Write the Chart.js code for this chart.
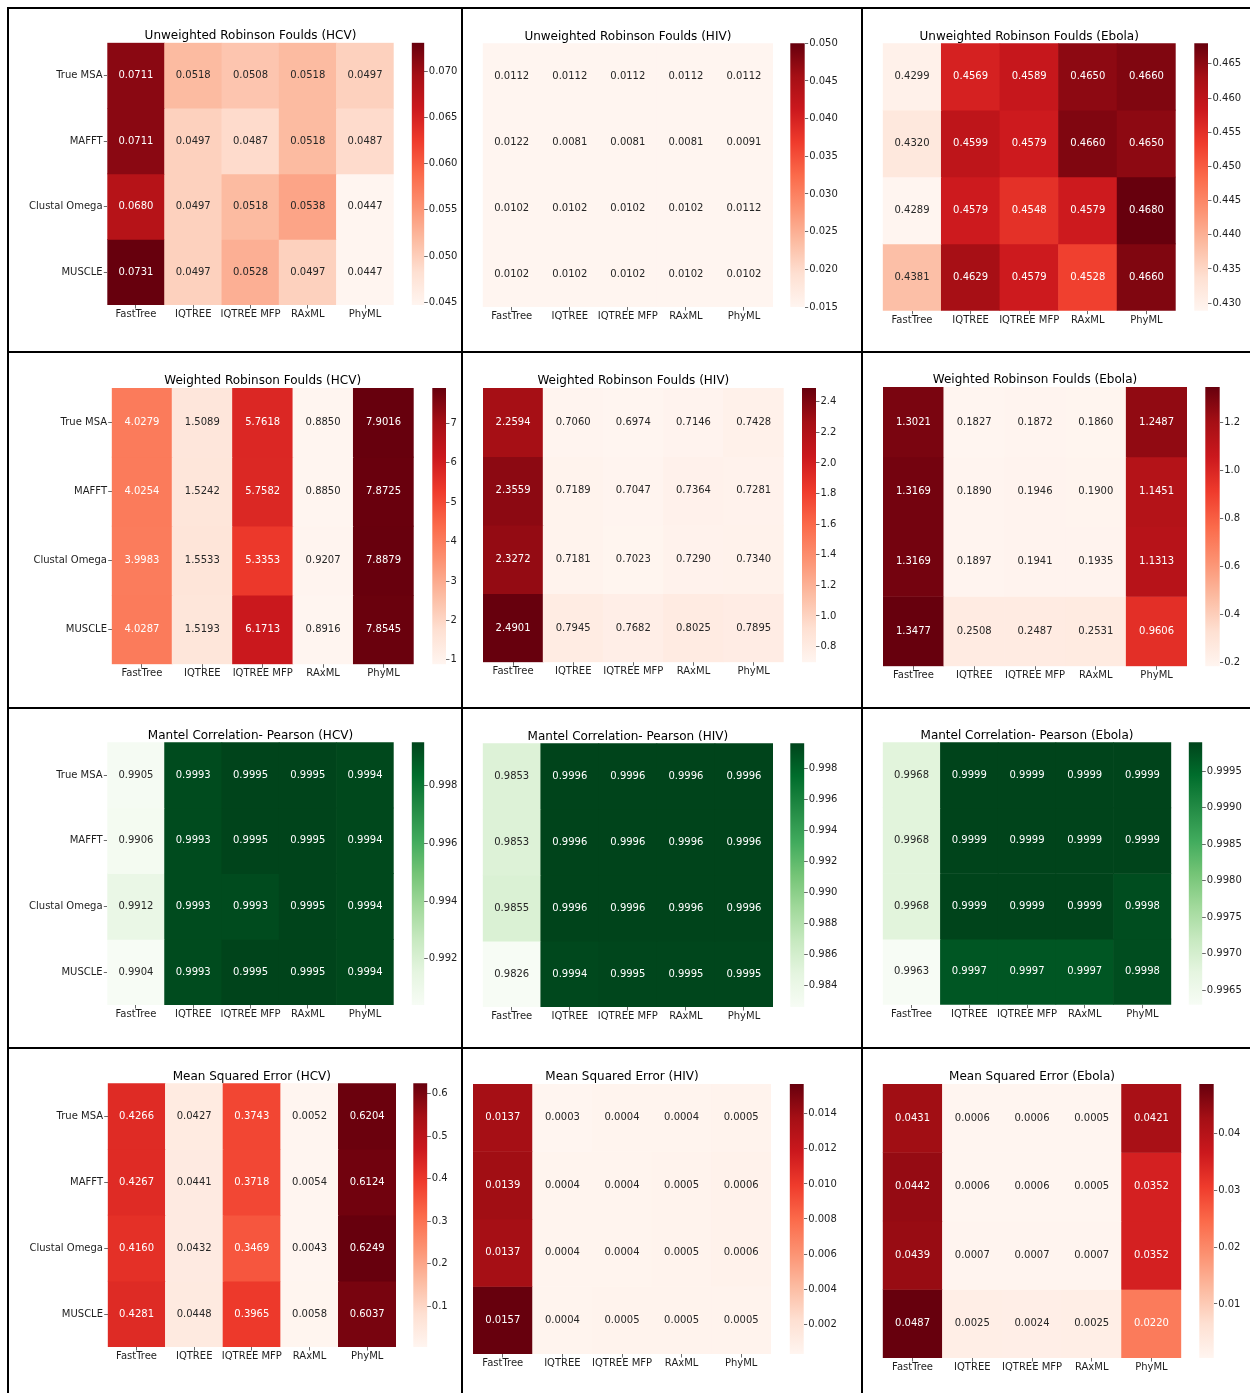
<!DOCTYPE html>
<html>
<head>
<meta charset="utf-8">
<title>Alignment / tree method comparison heatmaps</title>
<script src="https://cdn.jsdelivr.net/npm/chart.js@4.4.1/dist/chart.umd.min.js"></script>
<style>
  html, body { margin: 0; padding: 0; background: #fff; }
  body { position: relative; width: 1250px; height: 1393px; overflow: hidden; }
  canvas { position: absolute; }
  .rule { position: absolute; background: #000; }
</style>
</head>
<body>
<script>
// ---- categories ----
const aligners = ['True MSA', 'MAFFT', 'Clustal Omega', 'MUSCLE'];
const treeMethods = ['FastTree', 'IQTREE', 'IQTREE MFP', 'RAxML', 'PhyML'];

// ---- metric values (rows = aligners, columns = tree methods) ----
const urfHCV = [
  [0.0711, 0.0518, 0.0508, 0.0518, 0.0497],
  [0.0711, 0.0497, 0.0487, 0.0518, 0.0487],
  [0.0680, 0.0497, 0.0518, 0.0538, 0.0447],
  [0.0731, 0.0497, 0.0528, 0.0497, 0.0447]
];
const urfHIV = [
  [0.0112, 0.0112, 0.0112, 0.0112, 0.0112],
  [0.0122, 0.0081, 0.0081, 0.0081, 0.0091],
  [0.0102, 0.0102, 0.0102, 0.0102, 0.0112],
  [0.0102, 0.0102, 0.0102, 0.0102, 0.0102]
];
const urfEbola = [
  [0.4299, 0.4569, 0.4589, 0.4650, 0.4660],
  [0.4320, 0.4599, 0.4579, 0.4660, 0.4650],
  [0.4289, 0.4579, 0.4548, 0.4579, 0.4680],
  [0.4381, 0.4629, 0.4579, 0.4528, 0.4660]
];
const wrfHCV = [
  [4.0279, 1.5089, 5.7618, 0.8850, 7.9016],
  [4.0254, 1.5242, 5.7582, 0.8850, 7.8725],
  [3.9983, 1.5533, 5.3353, 0.9207, 7.8879],
  [4.0287, 1.5193, 6.1713, 0.8916, 7.8545]
];
const wrfHIV = [
  [2.2594, 0.7060, 0.6974, 0.7146, 0.7428],
  [2.3559, 0.7189, 0.7047, 0.7364, 0.7281],
  [2.3272, 0.7181, 0.7023, 0.7290, 0.7340],
  [2.4901, 0.7945, 0.7682, 0.8025, 0.7895]
];
const wrfEbola = [
  [1.3021, 0.1827, 0.1872, 0.1860, 1.2487],
  [1.3169, 0.1890, 0.1946, 0.1900, 1.1451],
  [1.3169, 0.1897, 0.1941, 0.1935, 1.1313],
  [1.3477, 0.2508, 0.2487, 0.2531, 0.9606]
];
const mantelHCV = [
  [0.9905, 0.9993, 0.9995, 0.9995, 0.9994],
  [0.9906, 0.9993, 0.9995, 0.9995, 0.9994],
  [0.9912, 0.9993, 0.9993, 0.9995, 0.9994],
  [0.9904, 0.9993, 0.9995, 0.9995, 0.9994]
];
const mantelHIV = [
  [0.9853, 0.9996, 0.9996, 0.9996, 0.9996],
  [0.9853, 0.9996, 0.9996, 0.9996, 0.9996],
  [0.9855, 0.9996, 0.9996, 0.9996, 0.9996],
  [0.9826, 0.9994, 0.9995, 0.9995, 0.9995]
];
const mantelEbola = [
  [0.9968, 0.9999, 0.9999, 0.9999, 0.9999],
  [0.9968, 0.9999, 0.9999, 0.9999, 0.9999],
  [0.9968, 0.9999, 0.9999, 0.9999, 0.9998],
  [0.9963, 0.9997, 0.9997, 0.9997, 0.9998]
];
const mseHCV = [
  [0.4266, 0.0427, 0.3743, 0.0052, 0.6204],
  [0.4267, 0.0441, 0.3718, 0.0054, 0.6124],
  [0.4160, 0.0432, 0.3469, 0.0043, 0.6249],
  [0.4281, 0.0448, 0.3965, 0.0058, 0.6037]
];
const mseHIV = [
  [0.0137, 0.0003, 0.0004, 0.0004, 0.0005],
  [0.0139, 0.0004, 0.0004, 0.0005, 0.0006],
  [0.0137, 0.0004, 0.0004, 0.0005, 0.0006],
  [0.0157, 0.0004, 0.0005, 0.0005, 0.0005]
];
const mseEbola = [
  [0.0431, 0.0006, 0.0006, 0.0005, 0.0421],
  [0.0442, 0.0006, 0.0006, 0.0005, 0.0352],
  [0.0439, 0.0007, 0.0007, 0.0007, 0.0352],
  [0.0487, 0.0025, 0.0024, 0.0025, 0.0220]
];

// ---- colorbar tick values ----
const cbTicksUrfHCV = [0.045, 0.050, 0.055, 0.060, 0.065, 0.070];
const cbTicksUrfHIV = [0.015, 0.020, 0.025, 0.030, 0.035, 0.040, 0.045, 0.050];
const cbTicksUrfEbola = [0.430, 0.435, 0.440, 0.445, 0.450, 0.455, 0.460, 0.465];
const cbTicksWrfHCV = [1, 2, 3, 4, 5, 6, 7];
const cbTicksWrfHIV = [0.8, 1.0, 1.2, 1.4, 1.6, 1.8, 2.0, 2.2, 2.4];
const cbTicksWrfEbola = [0.2, 0.4, 0.6, 0.8, 1.0, 1.2];
const cbTicksMantelHCV = [0.992, 0.994, 0.996, 0.998];
const cbTicksMantelHIV = [0.984, 0.986, 0.988, 0.990, 0.992, 0.994, 0.996, 0.998];
const cbTicksMantelEbola = [0.9965, 0.9970, 0.9975, 0.9980, 0.9985, 0.9990, 0.9995];
const cbTicksMseHCV = [0.1, 0.2, 0.3, 0.4, 0.5, 0.6];
const cbTicksMseHIV = [0.002, 0.004, 0.006, 0.008, 0.010, 0.012, 0.014];
const cbTicksMseEbola = [0.01, 0.02, 0.03, 0.04];

// fixed colour range for the HIV unweighted RF panel (others use data min/max)
const urfHIVRange = [0.015, 0.050];

// ---- colour maps (ColorBrewer sequential) ----
const PALETTES = {
  Reds:   ['#fff5f0', '#fee0d2', '#fcbba1', '#fc9272', '#fb6a4a', '#ef3b2c', '#cb181d', '#a50f15', '#67000d'],
  Greens: ['#f7fcf5', '#e5f5e0', '#c7e9c0', '#a1d99b', '#74c476', '#41ab5d', '#238b45', '#006d2c', '#00441b']
};
function hexToRgb(h) {
  return [parseInt(h.slice(1, 3), 16), parseInt(h.slice(3, 5), 16), parseInt(h.slice(5, 7), 16)];
}
function colorAt(name, t) {
  const stops = PALETTES[name];
  t = Math.max(0, Math.min(1, t));
  const s = t * (stops.length - 1);
  const i = Math.min(Math.floor(s), stops.length - 2);
  const f = s - i;
  const a = hexToRgb(stops[i]), b = hexToRgb(stops[i + 1]);
  return a.map((c, k) => Math.round(c + (b[k] - c) * f));
}
function rgbCss(rgb) { return 'rgb(' + rgb.join(',') + ')'; }
// annotation colour chosen from the cell's relative luminance
function textColorFor(rgb) {
  const lin = rgb.map(c => { c /= 255; return c <= 0.03928 ? c / 12.92 : Math.pow((c + 0.055) / 1.055, 2.4); });
  const lum = 0.2126 * lin[0] + 0.7152 * lin[1] + 0.0722 * lin[2];
  return lum > 0.408 ? '#262626' : '#ffffff';
}

// ---- panel grid ----
const colSpans = [[9, 461], [463, 861], [863, 1250]];
const rowSpans = [[9, 351], [353, 707], [709, 1047], [1049, 1393]];

const panels = [
  { title: 'Unweighted Robinson Foulds (HCV)', values: urfHCV, palette: 'Reds', ticks: cbTicksUrfHCV, decimals: 3, range: null, rowLabels: true, col: 0, row: 0, plot: [107.3, 42.7, 393.7, 305], bar: [411.7, 424.3] },
  { title: 'Unweighted Robinson Foulds (HIV)', values: urfHIV, palette: 'Reds', ticks: cbTicksUrfHIV, decimals: 3, range: urfHIVRange, rowLabels: false, col: 1, row: 0, plot: [482.7, 43.3, 773, 307], bar: [790.3, 804.7] },
  { title: 'Unweighted Robinson Foulds (Ebola)', values: urfEbola, palette: 'Reds', ticks: cbTicksUrfEbola, decimals: 3, range: null, rowLabels: false, col: 2, row: 0, plot: [882.7, 43.3, 1175.7, 310.7], bar: [1194.3, 1208] },
  { title: 'Weighted Robinson Foulds (HCV)', values: wrfHCV, palette: 'Reds', ticks: cbTicksWrfHCV, decimals: 0, range: null, rowLabels: true, col: 0, row: 1, plot: [111.7, 388, 413.7, 664.3], bar: [432.3, 446] },
  { title: 'Weighted Robinson Foulds (HIV)', values: wrfHIV, palette: 'Reds', ticks: cbTicksWrfHIV, decimals: 1, range: null, rowLabels: false, col: 1, row: 1, plot: [483, 388, 783.7, 662.3], bar: [802, 816] },
  { title: 'Weighted Robinson Foulds (Ebola)', values: wrfEbola, palette: 'Reds', ticks: cbTicksWrfEbola, decimals: 1, range: null, rowLabels: false, col: 2, row: 1, plot: [883, 387, 1187, 666.3], bar: [1205.3, 1219.7] },
  { title: 'Mantel Correlation- Pearson (HCV)', values: mantelHCV, palette: 'Greens', ticks: cbTicksMantelHCV, decimals: 3, range: null, rowLabels: true, col: 0, row: 2, plot: [107.3, 742.3, 393.7, 1005], bar: [411.7, 424.3] },
  { title: 'Mantel Correlation- Pearson (HIV)', values: mantelHIV, palette: 'Greens', ticks: cbTicksMantelHIV, decimals: 3, range: null, rowLabels: false, col: 1, row: 2, plot: [482.7, 743.3, 773, 1007], bar: [790.3, 804.3] },
  { title: 'Mantel Correlation- Pearson (Ebola)', values: mantelEbola, palette: 'Greens', ticks: cbTicksMantelEbola, decimals: 4, range: null, rowLabels: false, col: 2, row: 2, plot: [882.7, 742.3, 1171.3, 1004.7], bar: [1188.7, 1202.3] },
  { title: 'Mean Squared Error (HCV)', values: mseHCV, palette: 'Reds', ticks: cbTicksMseHCV, decimals: 1, range: null, rowLabels: true, col: 0, row: 3, plot: [107.7, 1083.3, 396, 1347], bar: [413.3, 427.3] },
  { title: 'Mean Squared Error (HIV)', values: mseHIV, palette: 'Reds', ticks: cbTicksMseHIV, decimals: 3, range: null, rowLabels: false, col: 1, row: 3, plot: [473, 1084, 771, 1354], bar: [789.7, 803.7] },
  { title: 'Mean Squared Error (Ebola)', values: mseEbola, palette: 'Reds', ticks: cbTicksMseEbola, decimals: 2, range: null, rowLabels: false, col: 2, row: 3, plot: [882.7, 1084, 1181.3, 1358], bar: [1199.3, 1213.7] }
];

Chart.defaults.font.family = '"DejaVu Sans", sans-serif';
Chart.defaults.font.size = 10;

const TICK_COLOR = '#444';
const LABEL_COLOR = '#1e1e1e';

// panel heading above the cells
const panelTitle = {
  id: 'panelTitle',
  afterDraw(chart, args, opts) {
    const { ctx, chartArea } = chart;
    ctx.save();
    ctx.font = '12px "DejaVu Sans", sans-serif';
    ctx.fillStyle = '#000';
    ctx.textAlign = 'center';
    ctx.textBaseline = 'alphabetic';
    ctx.fillText(opts.text, (chartArea.left + chartArea.right) / 2, chartArea.top - 3.7);
    ctx.restore();
  }
};

// value printed in the middle of each cell
const cellText = {
  id: 'cellText',
  afterDatasetsDraw(chart) {
    const ctx = chart.ctx;
    ctx.save();
    ctx.font = '10px "DejaVu Sans", sans-serif';
    ctx.textAlign = 'center';
    ctx.textBaseline = 'middle';
    chart.data.datasets.forEach((ds, r) => {
      chart.getDatasetMeta(r).data.forEach((bar, j) => {
        const p = bar.getProps(['x', 'y', 'base'], true);
        ctx.fillStyle = ds.textColors[j];
        ctx.fillText(ds.cellValues[j].toFixed(4), p.x, (p.y + p.base) / 2);
      });
    });
    ctx.restore();
  }
};

function valueRange(p) {
  if (p.range) return p.range;
  const all = p.values.flat();
  return [Math.min(...all), Math.max(...all)];
}

function addCanvas(left, top, w, h) {
  const c = document.createElement('canvas');
  c.width = w; c.height = h;
  c.style.left = left + 'px'; c.style.top = top + 'px';
  c.style.width = w + 'px'; c.style.height = h + 'px';
  document.body.appendChild(c);
  return c;
}

function drawHeatmap(p) {
  const [cl, cr] = colSpans[p.col];
  const [ct, cb] = rowSpans[p.row];
  const canvas = addCanvas(cl, ct, cr - cl, cb - ct);
  const [hl, ht, hr, hb] = p.plot;
  const yW = p.rowLabels ? 100 : 0;
  const xH = 28;
  const [vmin, vmax] = valueRange(p);

  const datasets = aligners.map((name, r) => {
    const rgbs = p.values[r].map(v => colorAt(p.palette, (v - vmin) / (vmax - vmin)));
    return {
      label: name,
      data: treeMethods.map(() => [r, r + 1]),
      cellValues: p.values[r],
      backgroundColor: rgbs.map(rgbCss),
      textColors: rgbs.map(textColorFor),
      borderWidth: 0,
      grouped: false,
      barPercentage: 1,
      categoryPercentage: 1
    };
  });

  new Chart(canvas, {
    type: 'bar',
    data: { labels: treeMethods, datasets },
    plugins: [panelTitle, cellText],
    options: {
      responsive: false,
      animation: false,
      devicePixelRatio: 1,
      events: [],
      layout: { padding: { left: hl - cl - yW, right: cr - hr, top: ht - ct, bottom: cb - hb - xH } },
      plugins: {
        legend: { display: false },
        tooltip: { enabled: false },
        panelTitle: { text: p.title }
      },
      scales: {
        x: {
          type: 'category',
          offset: true,
          grid: { offset: false, drawOnChartArea: false, drawTicks: true, tickLength: 3.5, tickColor: TICK_COLOR, tickWidth: 0.8 },
          border: { display: false },
          ticks: { padding: 0, color: LABEL_COLOR, autoSkip: false, maxRotation: 0, font: { size: 10 } },
          afterFit(s) { s.height = xH; }
        },
        y: {
          type: 'linear',
          min: 0, max: aligners.length,
          reverse: true,
          display: p.rowLabels,
          grid: { drawOnChartArea: false, drawTicks: true, tickLength: 3.5, tickColor: TICK_COLOR, tickWidth: 0.8 },
          border: { display: false },
          ticks: { padding: 1.2, color: LABEL_COLOR, autoSkip: false, font: { size: 10 }, callback: (v, i) => aligners[i] },
          afterBuildTicks(s) { s.ticks = aligners.map((_, i) => ({ value: i + 0.5 })); },
          afterFit(s) { s.width = yW; }
        }
      }
    }
  });
}

function drawColorbar(p) {
  const [vmin, vmax] = valueRange(p);
  const [, ht, , hb] = p.plot;
  const [bl, br] = p.bar;
  const left = Math.floor(bl);
  const top = Math.floor(ht) - 10;
  const labelW = 52;
  const w = Math.ceil(br - left) + labelW;
  const h = Math.ceil(hb) + 10 - top;
  const canvas = addCanvas(left, top, w, h);
  const stops = PALETTES[p.palette];

  new Chart(canvas, {
    type: 'bar',
    data: {
      labels: [''],
      datasets: [{
        data: [[vmin, vmax]],
        borderWidth: 0,
        barPercentage: 1,
        categoryPercentage: 1,
        backgroundColor(ctx) {
          const chart = ctx.chart;
          if (!chart.chartArea) return stops[0];
          const ys = chart.scales.y;
          const g = chart.ctx.createLinearGradient(0, ys.getPixelForValue(vmin), 0, ys.getPixelForValue(vmax));
          stops.forEach((c, i) => g.addColorStop(i / (stops.length - 1), c));
          return g;
        }
      }]
    },
    options: {
      responsive: false,
      animation: false,
      devicePixelRatio: 1,
      events: [],
      layout: { padding: { left: bl - left, right: 0, top: ht - top, bottom: top + h - hb } },
      plugins: { legend: { display: false }, tooltip: { enabled: false } },
      scales: {
        x: { display: false, offset: true },
        y: {
          type: 'linear',
          position: 'right',
          min: vmin, max: vmax,
          grid: { drawOnChartArea: false, drawTicks: true, tickLength: 3.5, tickColor: TICK_COLOR, tickWidth: 0.8 },
          border: { display: false },
          ticks: { padding: 1, color: LABEL_COLOR, autoSkip: false, font: { size: 10 }, callback: v => Number(v).toFixed(p.decimals) },
          afterBuildTicks(s) { s.ticks = p.ticks.map(v => ({ value: v })); },
          afterFit(s) { s.width = w - (br - left); }
        }
      }
    }
  });
}

panels.forEach(p => { drawHeatmap(p); drawColorbar(p); });

// frame lines between the panels
const rules = [
  [7, 7, 2, 1386],      // left edge
  [7, 7, 1243, 2],      // top edge
  [461, 7, 2, 1386],
  [861, 7, 2, 1386],
  [7, 351, 1243, 2],
  [7, 707, 1243, 2],
  [7, 1047, 1243, 2]
];
rules.forEach(([x, y, w, h]) => {
  const d = document.createElement('div');
  d.className = 'rule';
  d.style.left = x + 'px'; d.style.top = y + 'px';
  d.style.width = w + 'px'; d.style.height = h + 'px';
  document.body.appendChild(d);
});
</script>
</body>
</html>
